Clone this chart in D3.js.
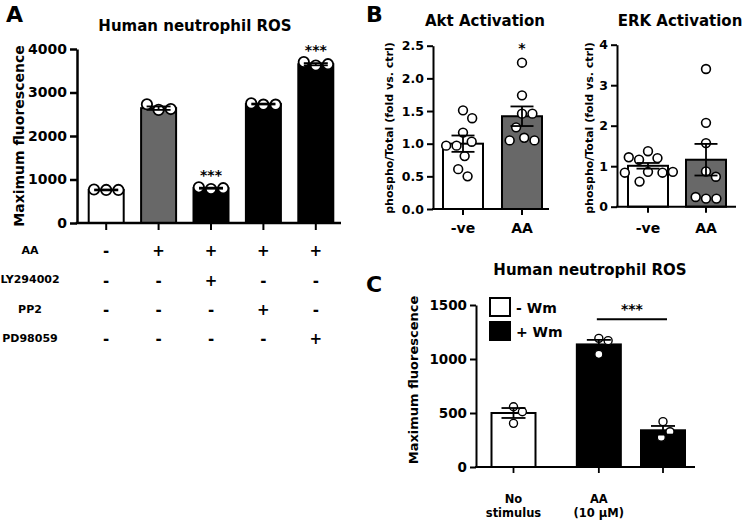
<!DOCTYPE html>
<html><head><meta charset="utf-8">
<script src="https://cdn.jsdelivr.net/npm/d3@7"></script>
<style>
body{margin:0;background:#fff}
svg{display:block}
text{font-family:"DejaVu Sans",sans-serif;font-weight:bold;fill:#000}
</style>
</head><body>
<svg id="chart" width="745" height="520"></svg>
<script>
// ---------------- DATA ----------------
// Panel A
const aConditions = ["Control", "AA", "AA+LY294002", "AA+PP2", "AA+PD98059"];
const aMeans = [760, 2640, 800, 2735, 3650];
const aSem = [10, 40, 12, 10, 25];
const aPoints = [[760, 760, 770], [2600, 2620, 2730], [780, 800, 820], [2720, 2720, 2750], [3620, 3650, 3700]];
const aFills = ["#ffffff", "#686868", "#000000", "#000000", "#000000"];
const aSig = ["", "", "***", "", "***"];
const aYTicks = [0, 1000, 2000, 3000, 4000];
const treatRows = ["AA", "LY294002", "PP2", "PD98059"];
const treatMatrix = [[0, 1, 1, 1, 1], [0, 0, 1, 0, 0], [0, 0, 0, 1, 0], [0, 0, 0, 0, 1]];

// Panel B
const bCats = ["-ve", "AA"];
const aktMeans = [1.00, 1.42];
const aktSem = [0.125, 0.15];
const aktPoints = [[1.51, 1.39, 1.17, 1.03, 0.97, 0.97, 0.81, 0.61, 0.50],
                   [2.24, 1.74, 1.46, 1.46, 1.25, 1.09, 1.05, 1.05]];
const aktSig = ["", "*"];
const aktTicks = [0, 0.5, 1.0, 1.5, 2.0, 2.5];
const erkMeans = [1.01, 1.16];
const erkSem = [0.07, 0.39];
const erkPoints = [[1.37, 1.20, 1.16, 1.22, 0.86, 0.84, 0.84, 0.86, 0.62],
                   [3.40, 2.07, 1.57, 0.87, 0.74, 0.20, 0.20, 0.24]];
const erkTicks = [0, 1, 2, 3, 4];
const bFills = ["#ffffff", "#686868"];

// Panel C
const cGroups = [["No", "stimulus"], ["AA", "(10 µM)"]];
const cSeries = ["- Wm", "+ Wm"];
const cSeriesFill = ["#ffffff", "#000000"];
const cBarGroup = [0, 1, 1];
const cBarFills = ["#ffffff", "#000000", "#000000"];
const cMeans = [500, 1135, 340];
const cSem = [46, 42, 40];
const cPoints = [[558, 512, 404], [1191, 1170, 1043], [420, 327, 275]];
const cYTicks = [0, 500, 1000, 1500];

// ---------------- HELPERS ----------------
const svg = d3.select("#chart");

function swarm(ys, d, k) {
  const placed = [];
  const need = dy => { const a = Math.abs(dy) / (k * d); return a >= 1 ? 0 : d * Math.sqrt(1 - a * a); };
  ys.forEach(y => {
    const cands = [0];
    placed.forEach(p => { const n = need(y - p.y); if (n > 0) cands.push(p.x + n, p.x - n); });
    cands.sort((a, b) => (Math.abs(a) - Math.abs(b)) || (b - a));
    let best = 0;
    for (const c of cands) {
      if (placed.every(p => { const n = need(y - p.y); return n === 0 || Math.abs(c - p.x) >= n - 1e-6; })) { best = c; break; }
    }
    placed.push({ x: best, y });
  });
  return placed.map(p => p.x);
}

function drawBars(g, o) {
  o.means.forEach((m, i) => {
    g.append("rect")
      .attr("x", o.xs[i] - o.barW / 2)
      .attr("y", o.y(m))
      .attr("width", o.barW)
      .attr("height", o.y(0) - o.y(m))
      .attr("fill", o.fills[i])
      .attr("stroke", "#000")
      .attr("stroke-width", o.barSW);
  });
  o.points.forEach((pts, i) => {
    const ys = pts.map(v => o.y(v));
    const offs = swarm(ys, 2 * o.r + o.pSW, 1.6);
    pts.forEach((v, j) => {
      g.append("circle")
        .attr("cx", o.xs[i] + offs[j])
        .attr("cy", o.y(v))
        .attr("r", o.r)
        .attr("fill", "#fff")
        .attr("stroke", "#000")
        .attr("stroke-width", o.pSW);
    });
  });
  o.means.forEach((m, i) => {
    const s = o.sems[i], cx = o.xs[i];
    const eg = g.append("g").attr("stroke", "#000").attr("stroke-width", o.ebSW);
    eg.append("line").attr("x1", cx).attr("x2", cx).attr("y1", o.y(m - s)).attr("y2", o.y(m + s));
    [m - s, m + s].forEach(v => {
      eg.append("line").attr("x1", cx - o.capW / 2).attr("x2", cx + o.capW / 2).attr("y1", o.y(v)).attr("y2", o.y(v));
    });
  });
}

function yAxis(g, y, x0, ticks, fmt, fs, sw, tsize) {
  const ax = g.append("g").attr("transform", `translate(${x0},0)`)
    .call(d3.axisLeft(y).tickValues(ticks).tickFormat(fmt).tickSize(tsize).tickSizeOuter(0).tickPadding(3));
  ax.select(".domain").attr("stroke", "#000").attr("stroke-width", sw);
  ax.selectAll(".tick line").attr("stroke", "#000").attr("stroke-width", sw);
  ax.selectAll(".tick text").style("font-size", fs + "px").attr("fill", "#000");
  return ax;
}

function xAxisLine(g, x0, x1, yPos, sw) {
  g.append("line").attr("x1", x0 - sw / 2).attr("x2", x1).attr("y1", yPos).attr("y2", yPos)
    .attr("stroke", "#000").attr("stroke-width", sw);
}

function xTicks(g, xs, yPos, len, sw) {
  xs.forEach(x => g.append("line").attr("x1", x).attr("x2", x).attr("y1", yPos).attr("y2", yPos + len)
    .attr("stroke", "#000").attr("stroke-width", sw));
}

function vLabel(g, text, x, yc, fs) {
  g.append("text").attr("transform", `translate(${x},${yc}) rotate(-90)`)
    .attr("text-anchor", "middle").style("font-size", fs + "px").text(text);
}

function title(g, text, x, y, fs) {
  g.append("text").attr("x", x).attr("y", y).attr("text-anchor", "middle").style("font-size", fs + "px").text(text);
}

// ---------------- PANEL A ----------------
const gA = svg.append("g");
const yA = d3.scaleLinear().domain([0, 4000]).range([223, 49]);
const xA = d3.scalePoint().domain(aConditions).range([80, 342]).padding(0.5);
const xsA = aConditions.map(c => xA(c));
gA.append("text").attr("x", 6).attr("y", 22).style("font-size", "22px").text("A");
title(gA, "Human neutrophil ROS", 195, 31, 15);
drawBars(gA, { xs: xsA, y: yA, means: aMeans, sems: aSem, points: aPoints, fills: aFills,
  barW: 35, barSW: 2, r: 5.2, pSW: 1.8, capW: 24, ebSW: 1.8 });
yAxis(gA, yA, 77, aYTicks, d3.format("d"), 14, 2.5, 7);
xAxisLine(gA, 77, 341, 223, 2.5);
xTicks(gA, xsA, 223, 7, 2);
vLabel(gA, "Maximum fluorescence", 24, 136, 14);
aSig.forEach((s, i) => {
  if (s) gA.append("text").attr("x", xsA[i]).attr("y", yA(d3.max(aPoints[i])) - 7)
    .attr("text-anchor", "middle").style("font-size", "14px").text(s);
});
const rowY = d3.scalePoint().domain(treatRows).range([250, 338]);
treatRows.forEach((r, ri) => {
  gA.append("text").attr("x", 30).attr("y", rowY(r)).attr("dy", "0.35em")
    .attr("text-anchor", "middle").style("font-size", "11px").text(r);
  treatMatrix[ri].forEach((v, ci) => {
    gA.append("text").attr("x", xsA[ci]).attr("y", rowY(r)).attr("dy", "0.42em")
      .attr("text-anchor", "middle").style("font-size", "15px").text(v ? "+" : "-");
  });
});

// ---------------- PANEL B ----------------
const gB = svg.append("g");
gB.append("text").attr("x", 366).attr("y", 22).style("font-size", "22px").text("B");

function bPanel(o) {
  const g = gB.append("g");
  const y = d3.scaleLinear().domain([0, o.max]).range([o.y0, o.y1]);
  const x = d3.scalePoint().domain(bCats).range(o.xr).padding(0.5);
  const xs = bCats.map(c => x(c));
  title(g, o.title, o.tx, 26, 15);
  drawBars(g, { xs, y, means: o.means, sems: o.sems, points: o.points, fills: bFills,
    barW: 40, barSW: 2, r: 4.4, pSW: 1.6, capW: 23, ebSW: 1.8 });
  yAxis(g, y, o.ax, o.ticks, o.fmt, 12.5, 2, 6);
  xAxisLine(g, o.ax, o.axEnd, o.y0, 2);
  xTicks(g, xs, o.y0, 6, 2);
  bCats.forEach((c, i) => g.append("text").attr("x", xs[i]).attr("y", 233)
    .attr("text-anchor", "middle").style("font-size", "14px").text(c));
  vLabel(g, "phospho/Total (fold vs. ctrl)", o.lx, 128, 11);
  if (o.sig) o.sig.forEach((s, i) => {
    if (s) g.append("text").attr("x", xs[i]).attr("y", y(d3.max(o.points[i])) - 10)
      .attr("text-anchor", "middle").style("font-size", "14px").text(s);
  });
}
bPanel({ title: "Akt Activation", tx: 485, max: 2.5, y0: 209, y1: 45.7, xr: [433.5, 551.5], ax: 433, axEnd: 549,
  ticks: aktTicks, fmt: d3.format(".1f"), means: aktMeans, sems: aktSem, points: aktPoints, sig: aktSig, lx: 393 });
bPanel({ title: "ERK Activation", tx: 680, max: 4, y0: 206.7, y1: 44.7, xr: [619, 735], ax: 617, axEnd: 736,
  ticks: erkTicks, fmt: d3.format("d"), means: erkMeans, sems: erkSem, points: erkPoints, sig: null, lx: 593 });

// ---------------- PANEL C ----------------
const gC = svg.append("g");
gC.append("text").attr("x", 366).attr("y", 292).style("font-size", "22px").text("C");
title(gC, "Human neutrophil ROS", 590, 275, 15);
const yC = d3.scaleLinear().domain([0, 1500]).range([467, 305]);
const groupGap = 0.33;
const slots = cBarGroup.map((g, i) => i + g * groupGap);
const xC = d3.scaleLinear().domain([0, d3.max(slots)]).range([513.5, 663]);
const xsC = slots.map(s => xC(s));
drawBars(gC, { xs: xsC, y: yC, means: cMeans, sems: cSem, points: cPoints,
  fills: cBarFills, barW: 44, barSW: 2, r: 4, pSW: 1.4, capW: 24, ebSW: 1.8 });
yAxis(gC, yC, 476, cYTicks, d3.format("d"), 13.5, 2, 6);
xAxisLine(gC, 476, 695, 467, 2);
xTicks(gC, xsC, 467, 6, 1.8);
vLabel(gC, "Maximum fluorescence", 418, 380, 13);
cGroups.forEach((lines, gi) => {
  const first = cBarGroup.indexOf(gi);
  lines.forEach((t, li) => gC.append("text").attr("x", xsC[first]).attr("y", 503 + li * 14)
    .attr("text-anchor", "middle").style("font-size", "11.5px").text(t));
});
cSeries.forEach((s, i) => {
  const ly = 298 + i * 24;
  gC.append("rect").attr("x", 490).attr("y", ly).attr("width", 20).attr("height", 18)
    .attr("fill", cSeriesFill[i]).attr("stroke", "#000").attr("stroke-width", 2);
  gC.append("text").attr("x", 516).attr("y", ly + 15).style("font-size", "14px").text(s);
});
const sigY = yC(d3.max(cPoints[1])) - 19;
gC.append("line").attr("x1", xsC[1] - 2).attr("x2", xsC[2] + 4).attr("y1", sigY).attr("y2", sigY)
  .attr("stroke", "#000").attr("stroke-width", 2);
gC.append("text").attr("x", (xsC[1] + xsC[2]) / 2 + 1).attr("y", sigY - 5)
  .attr("text-anchor", "middle").style("font-size", "14px").text("***");
</script>
</body></html>
